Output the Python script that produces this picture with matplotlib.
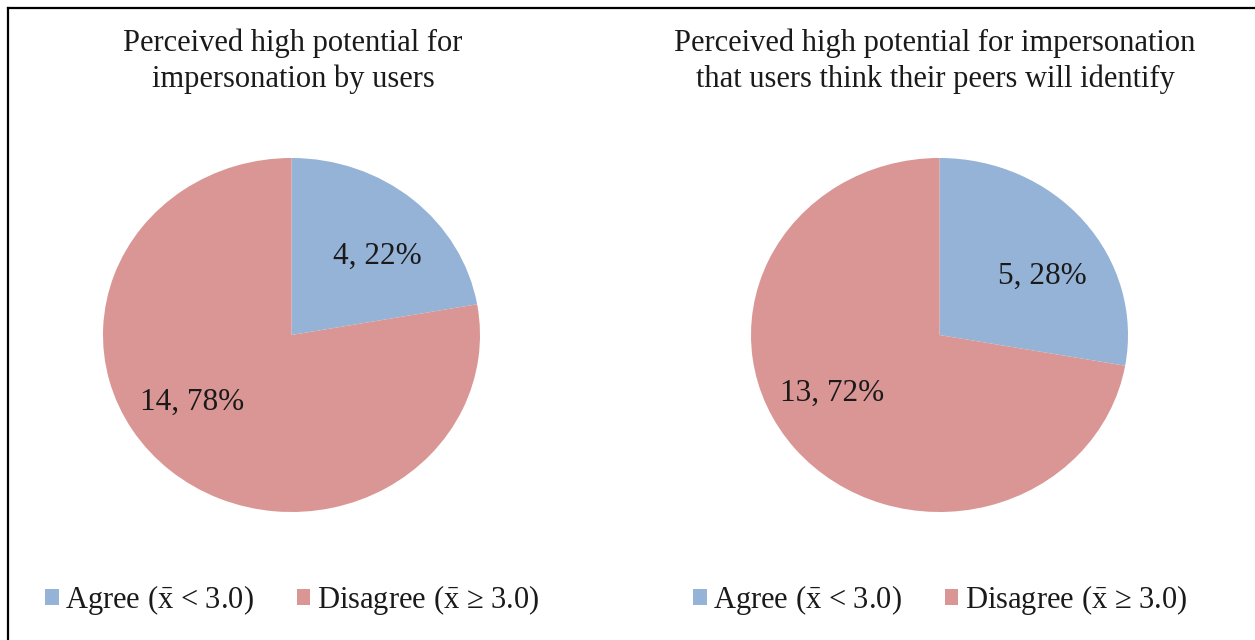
import matplotlib
matplotlib.use("Agg")
import matplotlib.pyplot as plt
from matplotlib.lines import Line2D

plt.rcParams["font.family"] = ["Liberation Serif", "DejaVu Serif"]
plt.rcParams["mathtext.fontset"] = "custom"
plt.rcParams["mathtext.rm"] = "Liberation Serif"

# Data
categories = [r"Agree ($\bar{\mathrm{x}}$ < 3.0)", "Disagree ($\\bar{\\mathrm{x}}$ \u2265 3.0)"]
titles = ["Perceived high potential for\nimpersonation by users",
          "Perceived high potential for impersonation\nthat users think their peers will identify"]
users_counts = [4, 14]
peers_counts = [5, 13]

colors = ["#95B3D7", "#D99694"]
text_color = "#1a1a1a"

W, H = 1255, 640
fig = plt.figure(figsize=(W / 100, H / 100), dpi=100)

# outer frame (right/bottom edges fall outside the image)
fig.add_artist(Line2D([8 / W, 8 / W], [0, 1 - 8 / H], color="black", lw=1.6))
fig.add_artist(Line2D([8 / W, 1], [1 - 8 / H, 1 - 8 / H], color="black", lw=1.6))

# pixel boxes: (left, top, width, height)
pie_boxes = [(103, 158, 377, 354), (751, 158, 377, 354)]
title_x = [293, 935]
label_pos = [[(0.456, 0.443), (-0.525, -0.381)],
             [(0.544, 0.330), (-0.570, -0.330)]]
legend_x = [292, 940]

for i, counts in enumerate([users_counts, peers_counts]):
    l, t, w, h = pie_boxes[i]
    ax = fig.add_axes([l / W, 1 - (t + h) / H, w / W, h / H])
    wedges, _ = ax.pie(counts, colors=colors, startangle=90, counterclock=False,
                       radius=1, wedgeprops=dict(linewidth=0))
    ax.set_aspect("auto")
    ax.set_xlim(-1, 1)
    ax.set_ylim(-1, 1)
    ax.axis("off")
    total = sum(counts)
    for v, (x, y) in zip(counts, label_pos[i]):
        ax.text(x, y, f"{v}, {round(100 * v / total)}%", ha="center", va="center",
                fontsize=22.5, color=text_color)

    fig.text(title_x[i] / W, 1 - 61 / H, titles[i], ha="center", va="center",
             fontsize=22, color=text_color, linespacing=1.3)

    fig.legend(wedges, categories, loc="center",
               bbox_to_anchor=(legend_x[i] / W, 1 - 600 / H), ncol=2,
               frameon=False, fontsize=22, handlelength=0.45, handleheight=0.45,
               handletextpad=0.2, columnspacing=1.4, borderpad=0, borderaxespad=0,
               labelcolor=text_color)

fig.savefig("out.png", dpi=100, facecolor="white")
